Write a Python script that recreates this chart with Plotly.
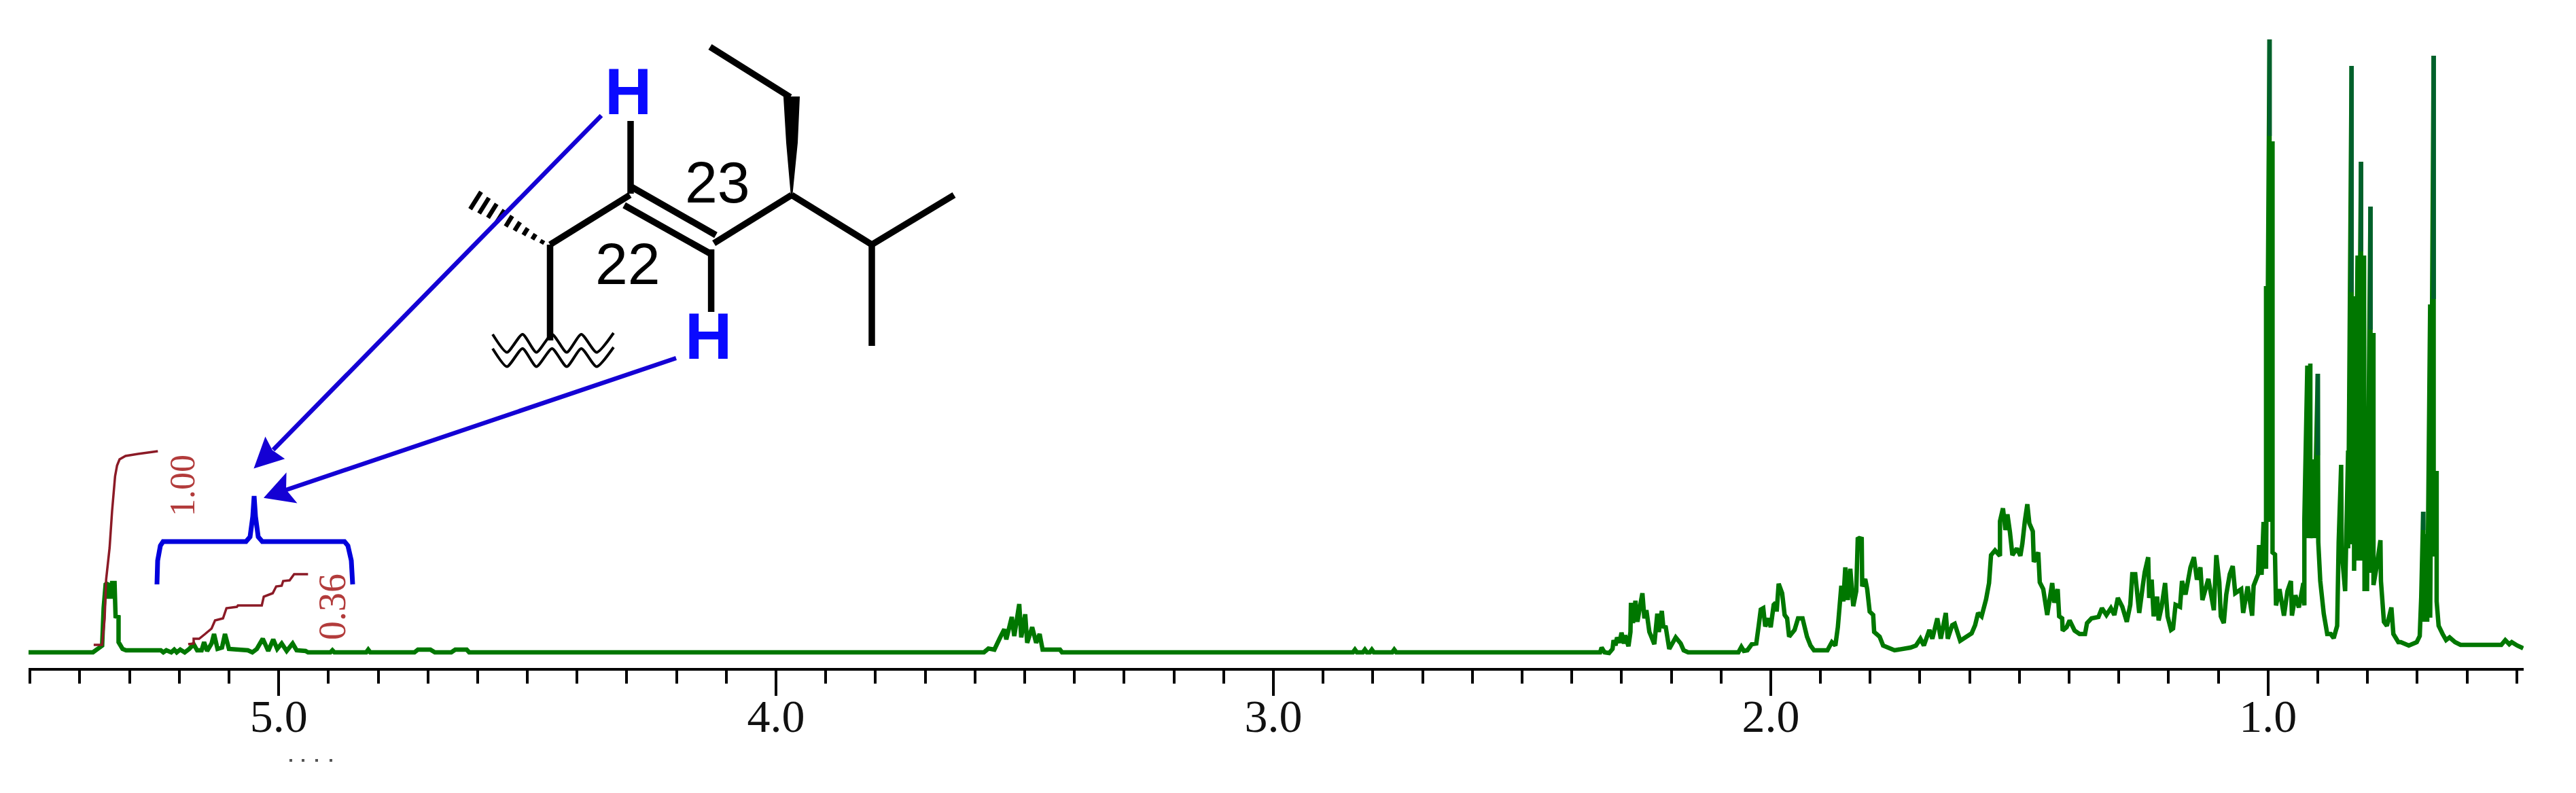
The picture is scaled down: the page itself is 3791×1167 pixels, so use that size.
import plotly.graph_objects as go

# 1H NMR spectrum: (chemical shift in ppm, intensity)
SPEC_OLEFIN = [(5.503,0),(5.3735,0),(5.364,5),(5.355,10),(5.352,65),(5.348,100),(5.344,102),(5.342,82),(5.337,82),
 (5.335,102),(5.330,102),(5.328,53),(5.322,52),(5.322,15),(5.314,5),(5.307,3),(5.237,3),(5.232,0),(5.226,3),(5.216,0),
 (5.210,4),(5.205,0),(5.198,4),(5.189,0),(5.180,5),(5.171,12),(5.164,3),(5.155,3),(5.150,15),(5.144,2),(5.135,13),
 (5.130,27),(5.123,5),(5.114,7),(5.108,27),(5.100,5),(5.062,3),(5.053,0),(5.044,5),(5.032,20),(5.021,2),(5.011,19),
 (5.003,5),(4.994,13),(4.984,2),(4.972,13),(4.964,3),(4.946,2),(4.941,0),(4.896,0),(4.892,3),(4.888,0),(4.824,0),
 (4.820,4),(4.816,0),(4.727,0),(4.720,4),(4.695,4),(4.686,0),(4.653,0),(4.645,4),(4.622,4),(4.617,0)]
SPEC_CARBINOL = [(3.582,0),(3.573,5.6),(3.561,4),(3.550,21),(3.541,34),(3.537,19),(3.526,52),(3.521,24),
 (3.511,71),(3.507,22),(3.499,56),(3.495,14),(3.485,37),(3.477,14),(3.470,27),(3.464,4),(3.429,4),(3.425,0),
 (2.840,0),(2.836,4),(2.832,0),(2.820,0),(2.816,4),(2.812,0),(2.806,0),(2.802,4),(2.798,0),(2.761,0),(2.757,4),(2.753,0)]
SPEC_ALLYL = [(2.343,0),(2.340,7),(2.334,0),(2.325,-1),(2.318,5),(2.316,18),(2.312,10),(2.309,22),(2.304,14),(2.300,29),
 (2.295,13),(2.293,25),(2.286,9),(2.282,30),(2.281,73),(2.277,43),(2.272,76),(2.268,45),(2.261,75),(2.258,87),(2.254,50),
 (2.250,62),(2.244,30),(2.240,23),(2.234,12),(2.228,57),(2.225,30),(2.219,61),(2.216,38),(2.211,37),(2.204,5),(2.191,22),
 (2.181,13),(2.175,3),(2.166,0),(2.065,0),(2.059,8),(2.054,2),(2.047,3),(2.038,12),(2.029,13),(2.024,40),(2.020,63),
 (2.015,65),(2.011,38),(2.004,50),(2.000,37),(1.994,70),(1.990,73),(1.988,60),(1.984,101),(1.977,87),(1.972,55),(1.967,50),
 (1.963,23),(1.952,33),(1.945,50),(1.936,50),(1.927,23),(1.920,10),(1.913,3),(1.886,3),(1.877,15),(1.870,10),(1.865,37),
 (1.858,98),(1.854,75),(1.850,125),(1.845,77),(1.840,123),(1.834,68),(1.828,90),(1.825,167),(1.822,168),(1.817,167),
 (1.816,97),(1.810,108),(1.806,93),(1.801,60),(1.794,55),(1.792,30),(1.781,23),(1.774,10),(1.751,3)]
SPEC_METHYLENE = [(1.719,7),(1.708,10),(1.699,20),(1.692,10),(1.681,33),(1.675,20),(1.665,50),(1.658,20),(1.648,58),
 (1.644,20),(1.635,40),(1.630,42),(1.619,17),(1.596,28),(1.589,40),(1.583,58),(1.576,53),(1.567,78),(1.561,102),(1.557,143),
 (1.549,150),(1.539,142),(1.539,193),(1.533,212),(1.528,180),(1.524,203),(1.519,177),(1.514,143),(1.505,153),(1.498,142),
 (1.494,160),(1.489,193),(1.484,218),(1.480,190),(1.473,178),(1.471,133),(1.462,147),(1.459,103),(1.452,93),(1.444,55),
 (1.434,102),(1.430,73),(1.423,93),(1.420,53),(1.414,50),(1.413,32),(1.405,37),(1.399,47),(1.389,32),(1.379,27),(1.368,27),
 (1.364,43),(1.355,50),(1.341,52),(1.334,65),(1.325,55),(1.316,65),(1.309,55),(1.302,80),(1.293,67),(1.284,45),(1.277,70),
 (1.273,115),(1.267,115),(1.259,58),(1.252,97),(1.248,118),(1.241,140),(1.239,80),(1.234,107),(1.230,53),(1.223,82),
 (1.220,47),(1.214,67),(1.207,102),(1.202,53),(1.195,33),(1.191,35),(1.186,70),(1.177,67),(1.173,105),(1.166,85),(1.156,125),
 (1.149,140),(1.143,107),(1.136,125),(1.132,77),(1.120,108),(1.109,62),(1.104,143),(1.098,103),(1.095,53),(1.089,43),
 (1.084,85),(1.077,115),(1.071,127),(1.066,87),(1.054,93),(1.050,58),(1.041,97),(1.032,54),(1.029,98),(1.020,115),(1.018,158)]
SPEC_METHYL = [(1.013,114),(1.009,192),(1.004,123),(1.004,539),(1.004,123),(0.997,902),(0.997,192),(0.991,752),(0.991,147),
 (0.986,144),(0.984,69),(0.977,93),(0.968,54),(0.961,90),(0.954,105),(0.952,54),(0.945,84),(0.938,66),(0.929,102),(0.927,69),
 (0.927,195),(0.921,422),(0.921,168),(0.915,425),(0.915,168),(0.907,284),(0.907,168),(0.900,410),(0.899,162),(0.895,105),
 (0.888,57),(0.881,27),(0.874,27),(0.868,21),(0.861,39),(0.858,162),(0.853,276),(0.852,150),(0.845,90),(0.839,297),(0.839,153),
 (0.832,863),(0.832,159),(0.827,524),(0.827,120),(0.820,584),(0.820,135),(0.813,722),(0.813,135),(0.807,584),(0.806,90),
 (0.801,195),(0.801,90),(0.794,656),(0.794,117),(0.788,470),(0.788,99),(0.781,129),(0.774,165),(0.773,105),(0.767,45),
 (0.761,39),(0.752,66),(0.748,27),(0.738,15),(0.733,15),(0.717,10),(0.701,15),(0.695,24),(0.692,81),(0.688,207),(0.686,45),
 (0.681,174),(0.680,45),(0.674,512),(0.674,51),(0.667,878),(0.667,141),(0.661,267),(0.661,75),(0.657,39),(0.649,27),(0.642,18),
 (0.635,22),(0.624,15),(0.613,11),(0.531,11),(0.523,18),(0.515,12),(0.510,15),(0.499,10),(0.487,6)]
# tops of the tall lines, (ppm, lower, upper), which read darker in the reference
SPIKE_TOPS = [(0.997,760,902),(0.832,530,863),(0.813,590,722),(0.794,475,656),(0.667,520,878),(0.688,180,207),(0.900,290,410)]

# integral curves: (ppm, height)
INTEGRAL_A = [(5.372,11),(5.355,11),(5.350,49),(5.347,107),(5.340,154),(5.335,208),(5.329,259),(5.325,275),(5.320,284),
 (5.308,289),(5.283,292),(5.243,296)]
INTEGRAL_B = [(5.182,12),(5.171,13),(5.171,20),(5.160,20),(5.148,27),(5.135,35),(5.128,47),(5.112,50),(5.105,65),(5.084,67),
 (5.082,69),(5.034,69),(5.030,82),(5.012,87),(5.005,97),(4.994,98),(4.991,105),(4.978,106),(4.969,115),(4.941,115)]

# structure drawing, in canvas units
BONDS = [((1045,69),(1163,143)),((1165,287),(1050.6,358)),((927,287),(809.5,360)),((1165,287),(1283,360)),((1283,360),(1404,287)),
 ((1283,360),(1283,509)),((930,275.5),(1053.5,346)),((918.6,302),(1045,373)),((928,178),(928,285)),((1046.6,367),(1046.6,459)),
 ((809.5,360),(809.5,501))]
HASHES = [((796.4,358.6),(799.6,353.4)),((783.4,352.2),(788.2,344.6)),((770.3,345.9),(776.7,335.7)),((757.3,339.5),(765.3,326.7)),
 ((744.2,333.2),(753.8,317.8)),((731.2,326.8),(742.4,309)),((718.1,320.5),(730.9,300.1)),((705.1,314.1),(719.5,291.1)),
 ((692,307.8),(708,282.2))]
WEDGE = [(1165,290),(1158,210),(1154,143),(1176,143),(1173,210)]
WAVE_X = [725,746,769,789.4,812.4,834,855.5,878,903]
WAVE_UPPER = [492,518.6,492,518.6,492,518.6,492,518.6,490]
WAVE_LOWER = [513,539.6,513,539.6,513,539.6,513,539.6,511]
ARROW_LINES = [((885,170),(402,662)),((995,527),(418,722))]
ARROW_HEADS = [[(375,688),(390.6,645),(400,663),(417,675)],[(390,732),(420.5,698),(420,721),(435,739)]]
BRACKET_X = [231,232,236,240,362,368,372,374,376,380,386,507,512,517,519]
BRACKET_Y = [860,825,803,797,797,790,760,730,760,790,797,797,803,825,860]
DOTS_X = [428,446,466,487]
DOTS_Y = [1119,1119,1119,1119]

GREEN = "#007700"
DARK_GREEN = "#00602c"
RED = "#8b1a26"
BLUE = "#1400d4"

CANVAS_W, CANVAS_H = 3791, 1167
AXIS_LEFT, AXIS_RIGHT, AXIS_BOTTOM = 42, 3714, 983

fig = go.Figure()
spec = [SPEC_OLEFIN, SPEC_CARBINOL, SPEC_ALLYL, SPEC_METHYLENE, SPEC_METHYL]
all_pts = [p for seg in spec for p in seg]
fig.add_trace(go.Scatter(x=[p[0] for p in all_pts], y=[p[1] for p in all_pts], mode="lines",
                         line=dict(color=GREEN, width=6.5, simplify=False), showlegend=False, hoverinfo="skip"))
for ppm, low, high in SPIKE_TOPS:
    fig.add_trace(go.Scatter(x=[ppm, ppm], y=[low, high], mode="lines",
                             line=dict(color=DARK_GREEN, width=6.5), showlegend=False, hoverinfo="skip"))
for seg in (INTEGRAL_A, INTEGRAL_B):
    fig.add_trace(go.Scatter(x=[p[0] for p in seg], y=[p[1] for p in seg], mode="lines",
                             line=dict(color=RED, width=3.5, simplify=False), showlegend=False, hoverinfo="skip"))

# overlay traces on the canvas axes
for wy in (WAVE_UPPER, WAVE_LOWER):
    fig.add_trace(go.Scatter(x=WAVE_X, y=wy, mode="lines", xaxis="x2", yaxis="y2",
                             line=dict(color="black", width=4, shape="spline", smoothing=0.6), showlegend=False, hoverinfo="skip"))
fig.add_trace(go.Scatter(x=BRACKET_X, y=BRACKET_Y, mode="lines", xaxis="x2", yaxis="y2",
                         line=dict(color="#0000dc", width=7), showlegend=False, hoverinfo="skip"))
fig.add_trace(go.Scatter(x=DOTS_X, y=DOTS_Y, mode="markers", xaxis="x2", yaxis="y2",
                         marker=dict(color="#555555", size=4, symbol="square"), showlegend=False, hoverinfo="skip"))

def seg_shape(a, b, color, width):
    return dict(type="line", xref="x2", yref="y2", x0=a[0], y0=a[1], x1=b[0], y1=b[1],
                line=dict(color=color, width=width), layer="above")

def poly_shape(pts, color):
    path = "M " + " L ".join(f"{x},{y}" for x, y in pts) + " Z"
    return dict(type="path", xref="x2", yref="y2", path=path, fillcolor=color, line=dict(color=color, width=2), layer="above")

shapes = [seg_shape(a, b, "black", 9.5) for a, b in BONDS]
shapes += [seg_shape(a, b, "black", 6.5) for a, b in HASHES]
shapes.append(poly_shape(WEDGE, "black"))
shapes += [seg_shape(a, b, BLUE, 6.5) for a, b in ARROW_LINES]
shapes += [poly_shape(h, BLUE) for h in ARROW_HEADS]

def note(text, x, y, size, color, family="Liberation Sans", angle=0, bold=False):
    return dict(text=f"<b>{text}</b>" if bold else text, x=x, y=y, xref="x2", yref="y2", showarrow=False,
                xanchor="center", yanchor="middle", textangle=angle,
                font=dict(family=family, size=size, color=color))

annotations = [
    note("H", 924, 134, 96, "#0a0aff", bold=True),
    note("H", 1042, 494, 96, "#0a0aff", bold=True),
    note("23", 1056, 268, 86, "black"),
    note("22", 924, 388, 86, "black"),
    note("1.00", 268, 715, 52, "#b23b3b", family="Liberation Serif", angle=-90),
    note("0.36", 489, 893, 56, "#b23b3b", family="Liberation Serif", angle=-90),
]

fig.update_layout(
    width=CANVAS_W, height=CANVAS_H, margin=dict(l=0, r=0, t=0, b=0),
    paper_bgcolor="white", plot_bgcolor="rgba(0,0,0,0)", showlegend=False,
    shapes=shapes, annotations=annotations,
    xaxis=dict(domain=[AXIS_LEFT/CANVAS_W, AXIS_RIGHT/CANVAS_W], range=[5.503, 0.486], anchor="y",
               showgrid=False, zeroline=False, showline=True, linecolor="black", linewidth=3.5,
               ticks="outside", ticklen=37, tickwidth=3.5, tickcolor="black", tick0=0, dtick=1, tickformat=".1f",
               ticklabelstandoff=-28,
               tickfont=dict(family="Liberation Serif", size=68, color="#111111"),
               minor=dict(ticks="outside", ticklen=19, tickwidth=3.5, tickcolor="black", tick0=0, dtick=0.1, showgrid=False)),
    yaxis=dict(domain=[(CANVAS_H-AXIS_BOTTOM)/CANVAS_H, 1], range=[-23, 960], anchor="x", visible=False),
    xaxis2=dict(domain=[0, 1], range=[0, CANVAS_W], anchor="y2", visible=False),
    yaxis2=dict(domain=[0, 1], range=[CANVAS_H, 0], anchor="x2", visible=False),
)

fig.write_html("out.html", config=dict(displayModeBar=False),
               post_script="document.body.style.margin='0';document.body.style.overflow='hidden';")
